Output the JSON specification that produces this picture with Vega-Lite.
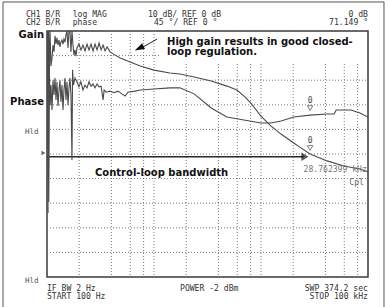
{
 "$schema": "https://vega.github.io/schema/vega-lite/v6.json",
 "width": 321, "height": 246,
 "autosize": {"type": "none"},
 "padding": {"left": 47, "top": 31, "right": 20, "bottom": 30},
 "background": "white",
 "data": {"values": [{}]},
 "config": {
  "view": {"stroke": "#3a3a3a", "strokeWidth": 1.5},
  "rule": {"color": "#7a7a7a", "strokeDash": [1, 2], "strokeWidth": 1},
  "text": {"font": "DejaVu Sans Mono", "fontSize": 8.1, "color": "#333", "baseline": "middle"}
 },
 "datasets": {
  "gain": [
   {"f":100,"db":37.4},{"f":101.1,"db":50},{"f":102.2,"db":-24},{"f":103.5,"db":50},{"f":105.1,"db":30.1},{"f":106.7,"db":50},
   {"f":109.0,"db":35.8},{"f":111.4,"db":39.0},{"f":113.8,"db":44.3},{"f":116.3,"db":41.5},{"f":118.8,"db":48.0},{"f":121.4,"db":44.7},
   {"f":124.0,"db":47.2},{"f":126.7,"db":44.3},{"f":129.5,"db":46.3},{"f":132.3,"db":43.5},{"f":135.1,"db":45.5},{"f":138.1,"db":46.3},
   {"f":141.1,"db":44.7},{"f":144.1,"db":46.7},{"f":147.3,"db":45.5},{"f":150.5,"db":48.4},{"f":153.7,"db":50},{"f":157.1,"db":43.1},
   {"f":160.5,"db":50},{"f":164.0,"db":50},{"f":167.5,"db":41.5},{"f":171.2,"db":50},{"f":174.9,"db":44.3},{"f":178.7,"db":40.2},
   {"f":182.6,"db":42.3},{"f":186.5,"db":39.8},{"f":190.6,"db":43.1},{"f":198.9,"db":44.7},{"f":207.6,"db":42.3},{"f":216.9,"db":44.3},
   {"f":226.6,"db":41.9},{"f":236.6,"db":44.7},{"f":247.0,"db":42.3},{"f":257.9,"db":44.7},{"f":269.4,"db":41.9},{"f":281.2,"db":44.7},
   {"f":293.6,"db":42.3},{"f":306.6,"db":45.1},{"f":320.2,"db":42.3},{"f":334.3,"db":44.3},{"f":349.1,"db":41.9},{"f":364.5,"db":43.5},
   {"f":388.9,"db":41.5},{"f":433.3,"db":40.2},{"f":482.7,"db":39.0},{"f":599.2,"db":37.4},{"f":743.7,"db":35.8},{"f":1000,"db":34.1},
   {"f":1410,"db":32.9},{"f":1745,"db":32.5},{"f":2372,"db":31.3},{"f":3423,"db":29.7},{"f":4803,"db":27.6},{"f":5943,"db":26.0},
   {"f":6914,"db":23.6},{"f":8046,"db":20.7},{"f":8586,"db":19.1},{"f":9979,"db":15.4},{"f":12350,"db":11.4},{"f":15380,"db":8.1},
   {"f":20250,"db":4.5},{"f":23070,"db":2.8},{"f":28762,"db":0},{"f":41480,"db":-2.8},{"f":59580,"db":-4.9},{"f":83970,"db":-6.1},{"f":100000,"db":-7.2}
  ],
  "phase": [
   {"f":100,"deg":98.8},{"f":101.1,"deg":144},{"f":102.6,"deg":25.6},{"f":103.9,"deg":-88},{"f":105.5,"deg":144},{"f":107.1,"deg":89.6},
   {"f":109.0,"deg":126},{"f":111.4,"deg":80.5},{"f":113.8,"deg":135},{"f":116.3,"deg":108},{"f":118.8,"deg":139},{"f":121.4,"deg":98.8},
   {"f":124.0,"deg":132},{"f":126.7,"deg":87.8},{"f":129.5,"deg":117},{"f":132.3,"deg":135},{"f":135.1,"deg":95.1},{"f":138.1,"deg":126},
   {"f":141.1,"deg":80.5},{"f":144.1,"deg":117},{"f":147.3,"deg":139},{"f":150.5,"deg":98.8},{"f":153.7,"deg":132},{"f":157.1,"deg":89.6},
   {"f":160.5,"deg":121},{"f":164.0,"deg":139},{"f":167.5,"deg":108},{"f":171.2,"deg":-11},{"f":173.4,"deg":154},{"f":176.6,"deg":126},
   {"f":182.6,"deg":139},{"f":190.6,"deg":132},{"f":198.9,"deg":123},{"f":207.6,"deg":132},{"f":216.9,"deg":117},{"f":226.6,"deg":126},
   {"f":236.6,"deg":121},{"f":247.0,"deg":132},{"f":257.9,"deg":124},{"f":269.4,"deg":128},{"f":281.2,"deg":121},{"f":293.6,"deg":128},
   {"f":306.6,"deg":123},{"f":320.2,"deg":124},{"f":334.3,"deg":98.8},{"f":341.6,"deg":117},{"f":356.7,"deg":113},{"f":388.9,"deg":115},
   {"f":423.1,"deg":112},{"f":460.8,"deg":115},{"f":501.2,"deg":110},{"f":537.8,"deg":106},{"f":570.3,"deg":113},{"f":663.5,"deg":115},
   {"f":743.7,"deg":117},{"f":1000,"deg":119},{"f":1410,"deg":121},{"f":1745,"deg":121},{"f":2372,"deg":110},{"f":3423,"deg":84.1},
   {"f":4803,"deg":67.7},{"f":6914,"deg":62.2},{"f":9979,"deg":56.7},{"f":12350,"deg":56.7},{"f":15380,"deg":60.4},{"f":20250,"deg":67.7},
   {"f":28762,"deg":71.149},{"f":41480,"deg":73.2},{"f":48280,"deg":73.2},{"f":50390,"deg":80.5},{"f":69240,"deg":80.5},{"f":83970,"deg":75},{"f":100000,"deg":67.7}
  ],
  "gainMarker": [{"f": 28762.399, "db": 0}],
  "phaseMarker": [{"f": 28762.399, "deg": 71.149}]
 },
 "layer": [
  {"layer": [
   {"mark": "rule", "encoding": {"x": {"datum": 200, "type": "quantitative", "axis": null}, "y": {"datum": 50, "type": "quantitative", "axis": null}, "y2": {"datum": -50}}},
   {"mark": "rule", "encoding": {"x": {"datum": 400, "type": "quantitative", "axis": null}, "y": {"datum": 50, "type": "quantitative", "axis": null}, "y2": {"datum": -50}}},
   {"mark": "rule", "encoding": {"x": {"datum": 600, "type": "quantitative", "axis": null}, "y": {"datum": 50, "type": "quantitative", "axis": null}, "y2": {"datum": -50}}},
   {"mark": "rule", "encoding": {"x": {"datum": 800, "type": "quantitative", "axis": null}, "y": {"datum": 50, "type": "quantitative", "axis": null}, "y2": {"datum": -50}}},
   {"mark": "rule", "encoding": {"x": {"datum": 1000, "type": "quantitative", "axis": null}, "y": {"datum": 50, "type": "quantitative", "axis": null}, "y2": {"datum": -50}}},
   {"mark": "rule", "encoding": {"x": {"datum": 2000, "type": "quantitative", "axis": null}, "y": {"datum": 50, "type": "quantitative", "axis": null}, "y2": {"datum": -50}}},
   {"mark": "rule", "encoding": {"x": {"datum": 4000, "type": "quantitative", "axis": null}, "y": {"datum": 50, "type": "quantitative", "axis": null}, "y2": {"datum": -50}}},
   {"mark": "rule", "encoding": {"x": {"datum": 6000, "type": "quantitative", "axis": null}, "y": {"datum": 50, "type": "quantitative", "axis": null}, "y2": {"datum": -50}}},
   {"mark": "rule", "encoding": {"x": {"datum": 8000, "type": "quantitative", "axis": null}, "y": {"datum": 50, "type": "quantitative", "axis": null}, "y2": {"datum": -50}}},
   {"mark": "rule", "encoding": {"x": {"datum": 10000, "type": "quantitative", "axis": null}, "y": {"datum": 50, "type": "quantitative", "axis": null}, "y2": {"datum": -50}}},
   {"mark": "rule", "encoding": {"x": {"datum": 20000, "type": "quantitative", "axis": null}, "y": {"datum": 50, "type": "quantitative", "axis": null}, "y2": {"datum": -50}}},
   {"mark": "rule", "encoding": {"x": {"datum": 40000, "type": "quantitative", "axis": null}, "y": {"datum": 50, "type": "quantitative", "axis": null}, "y2": {"datum": -50}}},
   {"mark": "rule", "encoding": {"x": {"datum": 60000, "type": "quantitative", "axis": null}, "y": {"datum": 50, "type": "quantitative", "axis": null}, "y2": {"datum": -50}}},
   {"mark": "rule", "encoding": {"x": {"datum": 80000, "type": "quantitative", "axis": null}, "y": {"datum": 50, "type": "quantitative", "axis": null}, "y2": {"datum": -50}}},
   {"mark": "rule", "encoding": {"y": {"datum": 40, "type": "quantitative", "axis": null}, "x": {"datum": 100, "type": "quantitative", "axis": null}, "x2": {"datum": 100000}}},
   {"mark": "rule", "encoding": {"y": {"datum": 30, "type": "quantitative", "axis": null}, "x": {"datum": 100, "type": "quantitative", "axis": null}, "x2": {"datum": 100000}}},
   {"mark": "rule", "encoding": {"y": {"datum": 20, "type": "quantitative", "axis": null}, "x": {"datum": 100, "type": "quantitative", "axis": null}, "x2": {"datum": 100000}}},
   {"mark": "rule", "encoding": {"y": {"datum": 10, "type": "quantitative", "axis": null}, "x": {"datum": 100, "type": "quantitative", "axis": null}, "x2": {"datum": 100000}}},
   {"mark": "rule", "encoding": {"y": {"datum": 0, "type": "quantitative", "axis": null}, "x": {"datum": 100, "type": "quantitative", "axis": null}, "x2": {"datum": 100000}}},
   {"mark": "rule", "encoding": {"y": {"datum": -10, "type": "quantitative", "axis": null}, "x": {"datum": 100, "type": "quantitative", "axis": null}, "x2": {"datum": 100000}}},
   {"mark": "rule", "encoding": {"y": {"datum": -20, "type": "quantitative", "axis": null}, "x": {"datum": 100, "type": "quantitative", "axis": null}, "x2": {"datum": 100000}}},
   {"mark": "rule", "encoding": {"y": {"datum": -30, "type": "quantitative", "axis": null}, "x": {"datum": 100, "type": "quantitative", "axis": null}, "x2": {"datum": 100000}}},
   {"mark": "rule", "encoding": {"y": {"datum": -40, "type": "quantitative", "axis": null}, "x": {"datum": 100, "type": "quantitative", "axis": null}, "x2": {"datum": 100000}}},
   {"mark": {"type": "rect", "fill": "white", "strokeWidth": 0},
    "encoding": {"x": {"datum": 1140, "type": "quantitative", "axis": null}, "x2": {"datum": 97900},
                 "y": {"datum": 49.6, "type": "quantitative", "axis": null}, "y2": {"datum": 37.4}}},
   {"data": {"name": "gain"},
    "mark": {"type": "line", "color": "#4a4a4a", "strokeWidth": 1.1, "clip": true},
    "encoding": {
     "x": {"field": "f", "type": "quantitative", "scale": {"type": "log", "domain": [100, 100000], "nice": false}, "axis": null},
     "y": {"field": "db", "type": "quantitative", "scale": {"domain": [-50, 50], "nice": false, "zero": false}, "axis": null}
    }},
   {"mark": {"type": "rect", "filled": false, "stroke": "#555", "strokeWidth": 1},
    "encoding": {"x": {"datum": 38.8, "type": "quantitative", "axis": null}, "x2": {"datum": 141100},
                 "y": {"datum": 61.8, "type": "quantitative", "axis": null}, "y2": {"datum": -62.6}}},
   {"mark": {"type": "rule", "color": "#2a2a2a", "strokeWidth": 1.5, "strokeDash": []},
    "encoding": {"x": {"datum": 100, "type": "quantitative", "axis": null}, "x2": {"datum": 25000},
                 "y": {"datum": -1.1, "type": "quantitative", "axis": null}}},
   {"mark": {"type": "point", "shape": "triangle-right", "filled": true, "color": "#111", "size": 70},
    "encoding": {"x": {"datum": 25740, "type": "quantitative", "axis": null}, "y": {"datum": -1.1, "type": "quantitative", "axis": null}}},
   {"mark": {"type": "point", "shape": "triangle-right", "filled": true, "color": "#222", "size": 22},
    "encoding": {"x": {"datum": 92.7, "type": "quantitative", "axis": null}, "y": {"datum": 0.4, "type": "quantitative", "axis": null}}},
   {"mark": {"type": "rule", "color": "#222", "strokeWidth": 1, "strokeDash": []},
    "encoding": {"x": {"datum": 1067, "type": "quantitative", "axis": null}, "x2": {"datum": 789},
                 "y": {"datum": 46.7, "type": "quantitative", "axis": null}, "y2": {"datum": 43.5}}},
   {"mark": {"type": "point", "shape": "M0,-1L0.6,0.9L-0.6,0.9Z", "filled": true, "color": "#111", "size": 110, "opacity": 1},
    "encoding": {"x": {"datum": 730, "type": "quantitative", "axis": null}, "y": {"datum": 43.0, "type": "quantitative", "axis": null}, "angle": {"value": 243}}},
   {"data": {"name": "gainMarker"},
    "mark": {"type": "point", "shape": "triangle-down", "filled": false, "color": "#444", "strokeWidth": 1, "size": 30, "yOffset": -6},
    "encoding": {"x": {"field": "f", "type": "quantitative", "axis": null}, "y": {"field": "db", "type": "quantitative", "axis": null}}},
   {"data": {"name": "gainMarker"},
    "mark": {"type": "text", "fontSize": 8, "color": "#444", "yOffset": -13},
    "encoding": {"x": {"field": "f", "type": "quantitative", "axis": null}, "y": {"field": "db", "type": "quantitative", "axis": null}, "text": {"value": "0"}}},

   {"mark": {"type": "text", "align": "left"}, "encoding": {"x": {"datum": 63.6, "type": "quantitative", "axis": null}, "y": {"datum": 56.7, "type": "quantitative", "axis": null}, "text": {"value": "CH1 B/R"}}},
   {"mark": {"type": "text", "align": "left"}, "encoding": {"x": {"datum": 63.6, "type": "quantitative", "axis": null}, "y": {"datum": 53.2, "type": "quantitative", "axis": null}, "text": {"value": "CH2 B/R"}}},
   {"mark": {"type": "text", "align": "left"}, "encoding": {"x": {"datum": 173.9, "type": "quantitative", "axis": null}, "y": {"datum": 56.7, "type": "quantitative", "axis": null}, "text": {"value": "log MAG"}}},
   {"mark": {"type": "text", "align": "left"}, "encoding": {"x": {"datum": 173.9, "type": "quantitative", "axis": null}, "y": {"datum": 53.2, "type": "quantitative", "axis": null}, "text": {"value": "phase"}}},
   {"mark": {"type": "text", "align": "left"}, "encoding": {"x": {"datum": 878.8, "type": "quantitative", "axis": null}, "y": {"datum": 56.7, "type": "quantitative", "axis": null}, "text": {"value": "10 dB/ REF 0 dB"}}},
   {"mark": {"type": "text", "align": "left"}, "encoding": {"x": {"datum": 1000, "type": "quantitative", "axis": null}, "y": {"datum": 53.2, "type": "quantitative", "axis": null}, "text": {"value": "45 °/ REF 0 °"}}},
   {"mark": {"type": "text", "align": "right"}, "encoding": {"x": {"datum": 100000, "type": "quantitative", "axis": null}, "y": {"datum": 56.7, "type": "quantitative", "axis": null}, "text": {"value": "0 dB"}}},
   {"mark": {"type": "text", "align": "right"}, "encoding": {"x": {"datum": 100000, "type": "quantitative", "axis": null}, "y": {"datum": 53.2, "type": "quantitative", "axis": null}, "text": {"value": "71.149 °"}}},
   {"mark": {"type": "text", "align": "left"}, "encoding": {"x": {"datum": 100, "type": "quantitative", "axis": null}, "y": {"datum": -54.7, "type": "quantitative", "axis": null}, "text": {"value": "IF BW 2 Hz"}}},
   {"mark": {"type": "text", "align": "left"}, "encoding": {"x": {"datum": 100, "type": "quantitative", "axis": null}, "y": {"datum": -58.2, "type": "quantitative", "axis": null}, "text": {"value": "START 100 Hz"}}},
   {"mark": {"type": "text", "align": "left"}, "encoding": {"x": {"datum": 1750, "type": "quantitative", "axis": null}, "y": {"datum": -54.7, "type": "quantitative", "axis": null}, "text": {"value": "POWER -2 dBm"}}},
   {"mark": {"type": "text", "align": "right"}, "encoding": {"x": {"datum": 100000, "type": "quantitative", "axis": null}, "y": {"datum": -54.7, "type": "quantitative", "axis": null}, "text": {"value": "SWP 374.2 sec"}}},
   {"mark": {"type": "text", "align": "right"}, "encoding": {"x": {"datum": 100000, "type": "quantitative", "axis": null}, "y": {"datum": -58.2, "type": "quantitative", "axis": null}, "text": {"value": "STOP 100 kHz"}}},
   {"mark": {"type": "text", "align": "left", "fontSize": 7.5, "color": "#555"}, "encoding": {"x": {"datum": 62.3, "type": "quantitative", "axis": null}, "y": {"datum": 8.9, "type": "quantitative", "axis": null}, "text": {"value": "Hld"}}},
   {"mark": {"type": "text", "align": "left", "fontSize": 7.5, "color": "#555"}, "encoding": {"x": {"datum": 62.3, "type": "quantitative", "axis": null}, "y": {"datum": -51.6, "type": "quantitative", "axis": null}, "text": {"value": "Hld"}}},
   {"mark": {"type": "text", "align": "right", "color": "#777"}, "encoding": {"x": {"datum": 97600, "type": "quantitative", "axis": null}, "y": {"datum": -6.5, "type": "quantitative", "axis": null}, "text": {"value": "28.762399 kHz"}}},
   {"mark": {"type": "text", "align": "right", "color": "#666"}, "encoding": {"x": {"datum": 91750, "type": "quantitative", "axis": null}, "y": {"datum": -11.8, "type": "quantitative", "axis": null}, "text": {"value": "Cpl"}}},
   {"mark": {"type": "text", "align": "right", "font": "DejaVu Sans", "fontWeight": "bold", "fontSize": 10, "color": "#111"}, "encoding": {"x": {"datum": 93.8, "type": "quantitative", "axis": null}, "y": {"datum": 48.3, "type": "quantitative", "axis": null}, "text": {"value": "Gain"}}},
   {"mark": {"type": "text", "align": "right", "font": "DejaVu Sans", "fontWeight": "bold", "fontSize": 10, "color": "#111"}, "encoding": {"x": {"datum": 93.8, "type": "quantitative", "axis": null}, "y": {"datum": 21.3, "type": "quantitative", "axis": null}, "text": {"value": "Phase"}}},
   {"mark": {"type": "text", "align": "left", "font": "DejaVu Sans", "fontWeight": "bold", "fontSize": 10, "color": "#111"}, "encoding": {"x": {"datum": 1323, "type": "quantitative", "axis": null}, "y": {"datum": 45.7, "type": "quantitative", "axis": null}, "text": {"value": "High gain results in good closed-"}}},
   {"mark": {"type": "text", "align": "left", "font": "DejaVu Sans", "fontWeight": "bold", "fontSize": 10, "color": "#111"}, "encoding": {"x": {"datum": 1323, "type": "quantitative", "axis": null}, "y": {"datum": 41.5, "type": "quantitative", "axis": null}, "text": {"value": "loop regulation."}}},
   {"mark": {"type": "text", "align": "left", "font": "DejaVu Sans", "fontWeight": "bold", "fontSize": 10, "color": "#111"}, "encoding": {"x": {"datum": 281, "type": "quantitative", "axis": null}, "y": {"datum": -7.7, "type": "quantitative", "axis": null}, "text": {"value": "Control-loop bandwidth"}}}
  ]},
  {"layer": [
   {"data": {"name": "phase"},
    "mark": {"type": "line", "color": "#4a4a4a", "strokeWidth": 1.1, "clip": true},
    "encoding": {
     "x": {"field": "f", "type": "quantitative", "axis": null},
     "y": {"field": "deg", "type": "quantitative", "scale": {"domain": [-225, 225], "nice": false, "zero": false}, "axis": null}
    }},
   {"data": {"name": "phaseMarker"},
    "mark": {"type": "point", "shape": "triangle-down", "filled": false, "color": "#444", "strokeWidth": 1, "size": 30, "yOffset": -7},
    "encoding": {"x": {"field": "f", "type": "quantitative", "axis": null}, "y": {"field": "deg", "type": "quantitative", "axis": null}}},
   {"data": {"name": "phaseMarker"},
    "mark": {"type": "text", "fontSize": 8, "color": "#444", "yOffset": -14},
    "encoding": {"x": {"field": "f", "type": "quantitative", "axis": null}, "y": {"field": "deg", "type": "quantitative", "axis": null}, "text": {"value": "0"}}}
  ]}
 ],
 "resolve": {"scale": {"y": "independent"}}
}
